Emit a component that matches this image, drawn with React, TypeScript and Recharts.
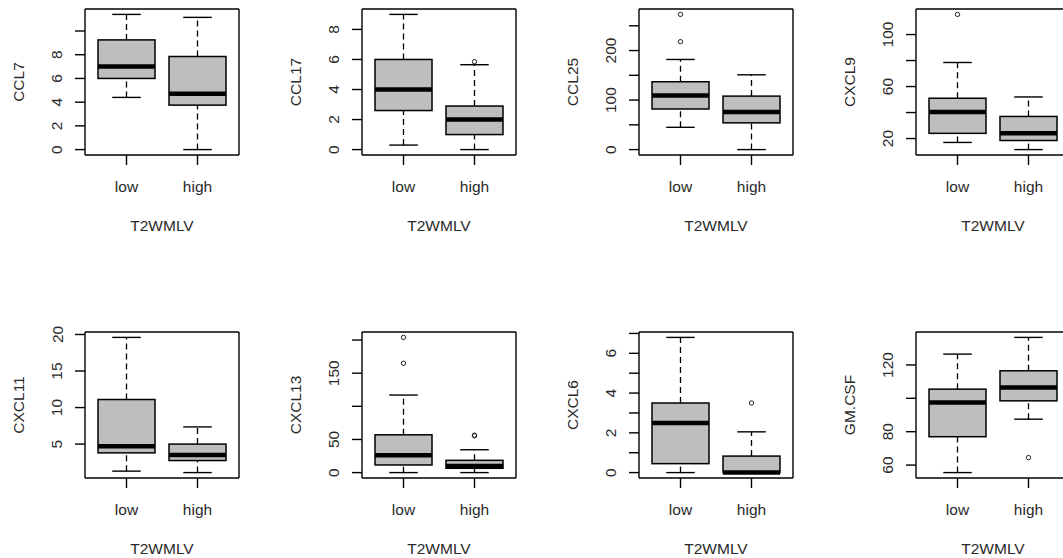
import React from "react";
import { ComposedChart, Bar, Line, XAxis, YAxis } from "recharts";

const groups = ["low", "high"];

// box stats per group: [min, q1, median, q3, max]  (low, high)
const ccl7 = [[4.4, 6.0, 7.0, 9.25, 11.4], [0, 3.75, 4.7, 7.85, 11.15]];
const ccl17 = [[0.3, 2.6, 4.0, 6.0, 9.0], [0, 1.0, 2.0, 2.9, 5.65]];
const ccl25 = [[45, 82, 109, 137, 182], [0, 54, 76, 108, 151]];
const cxcl9 = [[17, 24, 40.5, 51, 78.5], [11.5, 18.5, 24, 37, 52]];
const cxcl11 = [[1.3, 3.8, 4.7, 11.1, 19.6], [1.1, 2.75, 3.5, 5.0, 7.35]];
const cxcl13 = [[0, 11.5, 26, 57, 117], [0, 6.5, 10, 18.5, 34.5]];
const cxcl6 = [[0, 0.45, 2.5, 3.5, 6.8], [0, 0, 0, 0.83, 2.05]];
const gmcsf = [[55.5, 77, 97.5, 105.5, 126.5], [87.5, 98.5, 106.5, 116.5, 136.5]];

// outliers (low, high)
const ccl7Out = [[], []];
const ccl17Out = [[], [5.85]];
const ccl25Out = [[218, 273], []];
const cxcl9Out = [[115.5], []];
const cxcl11Out = [[], []];
const cxcl13Out = [[165, 204], [55.5, 56.5]];
const cxcl6Out = [[], [3.5]];
const gmcsfOut = [[], [64.5]];

// y ticks, and which of them carry a label
const ccl7Ticks = [0, 2, 4, 6, 8, 10];
const ccl7Labels = [0, 2, 4, 6, 8];
const ccl17Ticks = [0, 2, 4, 6, 8];
const ccl17Labels = [0, 2, 4, 6, 8];
const ccl25Ticks = [0, 50, 100, 150, 200, 250];
const ccl25Labels = [0, 100, 200];
const cxcl9Ticks = [20, 40, 60, 80, 100];
const cxcl9Labels = [20, 60, 100];
const cxcl11Ticks = [5, 10, 15, 20];
const cxcl11Labels = [5, 10, 15, 20];
const cxcl13Ticks = [0, 50, 100, 150, 200];
const cxcl13Labels = [0, 50, 150];
const cxcl6Ticks = [0, 1, 2, 3, 4, 5, 6, 7];
const cxcl6Labels = [0, 2, 4, 6];
const gmcsfTicks = [60, 80, 100, 120];
const gmcsfLabels = [60, 80, 120];

const xTitle = "T2WMLV";

const panels = [
  { name: "CCL7", stats: ccl7, out: ccl7Out, ticks: ccl7Ticks, labels: ccl7Labels },
  { name: "CCL17", stats: ccl17, out: ccl17Out, ticks: ccl17Ticks, labels: ccl17Labels },
  { name: "CCL25", stats: ccl25, out: ccl25Out, ticks: ccl25Ticks, labels: ccl25Labels },
  { name: "CXCL9", stats: cxcl9, out: cxcl9Out, ticks: cxcl9Ticks, labels: cxcl9Labels },
  { name: "CXCL11", stats: cxcl11, out: cxcl11Out, ticks: cxcl11Ticks, labels: cxcl11Labels },
  { name: "CXCL13", stats: cxcl13, out: cxcl13Out, ticks: cxcl13Ticks, labels: cxcl13Labels },
  { name: "CXCL6", stats: cxcl6, out: cxcl6Out, ticks: cxcl6Ticks, labels: cxcl6Labels },
  { name: "GM.CSF", stats: gmcsf, out: gmcsfOut, ticks: gmcsfTicks, labels: gmcsfLabels },
];

const FONT = '"Liberation Sans", Arial, Helvetica, sans-serif';
const TXT = "#2a2a2a";
const FS = 15.5;

function BoxShape(props: any) {
  const { x, y, width, height, payload } = props;
  if (x == null || y == null) return null;
  const top = Math.min(y, y + height);
  const bottom = Math.max(y, y + height);
  const span = payload.max - payload.min;
  const py = (v: number) =>
    span === 0 ? bottom : bottom - ((v - payload.min) / span) * (bottom - top);
  const cx = x + width / 2;
  const cap = width / 4;
  return (
    <g>
      <line x1={cx} x2={cx} y1={py(payload.min)} y2={py(payload.q1)} stroke="#000" strokeWidth={1.3} strokeDasharray="6 4" />
      <line x1={cx} x2={cx} y1={py(payload.q3)} y2={py(payload.max)} stroke="#000" strokeWidth={1.3} strokeDasharray="6 4" />
      <line x1={cx - cap} x2={cx + cap} y1={py(payload.min)} y2={py(payload.min)} stroke="#000" strokeWidth={1.4} />
      <line x1={cx - cap} x2={cx + cap} y1={py(payload.max)} y2={py(payload.max)} stroke="#000" strokeWidth={1.4} />
      <rect x={x} y={py(payload.q3)} width={width} height={py(payload.q1) - py(payload.q3)} fill="#bebebe" stroke="#000" strokeWidth={1.5} />
      <line x1={x} x2={x + width} y1={py(payload.med)} y2={py(payload.med)} stroke="#000" strokeWidth={4.5} />
    </g>
  );
}

function OutDot(p: any) {
  if (p.cy == null || p.value == null || isNaN(p.cy)) return <g key={p.key} />;
  return <circle key={p.key} cx={p.cx} cy={p.cy} r={2.2} fill="none" stroke="#222" strokeWidth={1} />;
}

function YTick(p: any) {
  const { x, y, payload, labels } = p;
  if (!labels.includes(payload.value)) return <g />;
  const bx = x - 10.5;
  return (
    <text x={bx} y={y} transform={`rotate(-90, ${bx}, ${y})`} textAnchor="middle"
          fontFamily={FONT} fontSize={FS} fill={TXT}>
      {payload.value}
    </text>
  );
}

function XTick(p: any) {
  const { x, y, payload } = p;
  return (
    <text x={x} y={y + 25} textAnchor="middle" fontFamily={FONT} fontSize={FS} fill={TXT}>
      {payload.value}
    </text>
  );
}

function YTitle(p: any) {
  const vb = p.viewBox || { x: 0, y: 9, width: 85, height: 146 };
  const bx = vb.x + vb.width - 61;
  const cy = vb.y + vb.height / 2;
  return (
    <text x={bx} y={cy} transform={`rotate(-90, ${bx}, ${cy})`} textAnchor="middle"
          fontFamily={FONT} fontSize={FS} fill={TXT}>
      {p.text}
    </text>
  );
}

function XTitle(p: any) {
  const vb = p.viewBox || { x: 85, y: 155, width: 154, height: 85 };
  return (
    <text x={vb.x + vb.width / 2} y={vb.y + 76} textAnchor="middle"
          fontFamily={FONT} fontSize={FS} fill={TXT}>
      {xTitle}
    </text>
  );
}

function Panel({ panel }: any) {
  const data = groups.map((g, i) => ({
    group: g,
    min: panel.stats[i][0],
    q1: panel.stats[i][1],
    med: panel.stats[i][2],
    q3: panel.stats[i][3],
    max: panel.stats[i][4],
    out1: panel.out[i][0],
    out2: panel.out[i][1],
  }));
  const all = panel.stats.flat().concat(panel.out.flat());
  const lo = Math.min(...all);
  const hi = Math.max(...all);
  const pad = (hi - lo) * 0.04;
  const ax = { stroke: "#000", strokeWidth: 1.4 };

  // top x axis and right y axis only draw the frame lines of the box
  return (
    <ComposedChart width={277} height={240} data={data}
                   margin={{ top: 8, right: 37, bottom: 0, left: 0 }}>
      <XAxis dataKey="group" type="category" padding={{ left: 6, right: 6 }}
             height={85} tickSize={10} axisLine={ax} tickLine={ax}
             tick={<XTick />} interval={0} label={<XTitle />} />
      <XAxis xAxisId="top" dataKey="group" orientation="top" height={1}
             tick={false} tickLine={false} axisLine={ax} />
      <YAxis type="number" domain={[lo - pad, hi + pad]} allowDataOverflow
             ticks={panel.ticks} interval={0} width={85} tickSize={10}
             axisLine={ax} tickLine={ax}
             tick={<YTick labels={panel.labels} />}
             label={<YTitle text={panel.name} />} />
      <YAxis yAxisId="right" orientation="right" type="number" domain={[0, 1]}
             width={1} tick={false} tickLine={false} axisLine={ax} />
      <Bar dataKey={(d: any) => [d.min, d.max]} barSize={57}
           shape={<BoxShape />} isAnimationActive={false} />
      <Line dataKey="out1" stroke="none" dot={OutDot} activeDot={false}
            isAnimationActive={false} />
      <Line dataKey="out2" stroke="none" dot={OutDot} activeDot={false}
            isAnimationActive={false} />
    </ComposedChart>
  );
}

export default function App() {
  return (
    <div style={{ position: "absolute", left: 0, top: 0, width: 1063, height: 558,
                  overflow: "hidden", background: "#fff" }}>
      {panels.map((p, i) => (
        <div key={p.name} style={{ position: "absolute", left: (i % 4) * 277,
                                    top: Math.floor(i / 4) * 323 }}>
          <Panel panel={p} />
        </div>
      ))}
    </div>
  );
}
